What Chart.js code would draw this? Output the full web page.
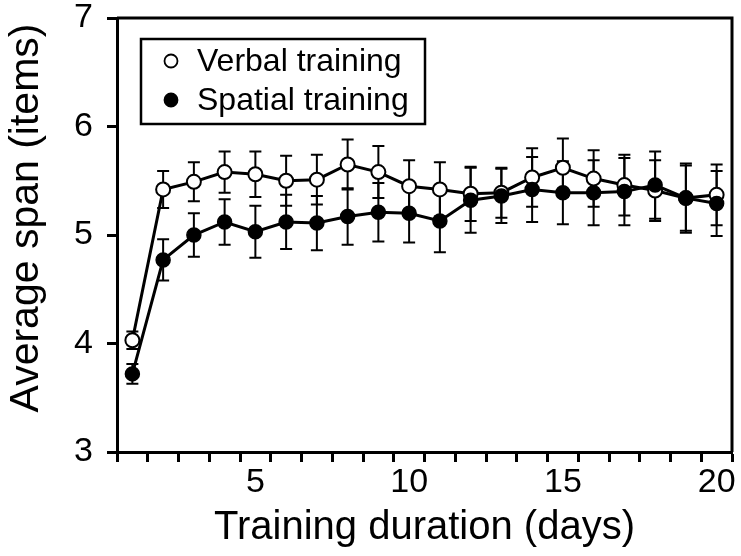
<!DOCTYPE html>
<html>
<head>
<meta charset="utf-8">
<script src="https://cdn.jsdelivr.net/npm/chart.js@4/dist/chart.umd.min.js"></script>
<style>
  html, body { margin: 0; padding: 0; background: #fff; }
  canvas { display: block; }
</style>
</head>
<body>
<canvas id="c" width="741" height="556"></canvas>
<script>
// ---- data ----
const days = [1,2,3,4,5,6,7,8,9,10,11,12,13,14,15,16,17,18,19,20];
const verbalMean = [4.03,5.42,5.49,5.58,5.56,5.50,5.51,5.65,5.58,5.45,5.42,5.38,5.39,5.53,5.62,5.52,5.46,5.41,5.34,5.37];
const verbalErr  = [0.08,0.17,0.18,0.19,0.21,0.23,0.23,0.23,0.24,0.24,0.25,0.25,0.23,0.27,0.27,0.26,0.28,0.28,0.30,0.28];
const spatialMean = [3.72,4.77,5.00,5.12,5.03,5.12,5.11,5.17,5.21,5.20,5.13,5.32,5.36,5.42,5.39,5.39,5.40,5.46,5.34,5.29];
const spatialErr  = [0.09,0.19,0.20,0.21,0.24,0.25,0.25,0.26,0.27,0.27,0.29,0.30,0.25,0.30,0.29,0.30,0.31,0.31,0.32,0.30];
const seriesLabels = ['Verbal training', 'Spatial training'];
const xLabelValues = [5, 10, 15, 20];
const yTickValues = [3, 4, 5, 6, 7];
const xTitle = 'Training duration (days)';
const yTitle = 'Average span (items)';

const FONT = '"Liberation Sans", Arial, sans-serif';

const errorBars = {
  id: 'errorBars',
  beforeDatasetsDraw(chart) {
    const {ctx, scales: {x, y}} = chart;
    ctx.save();
    ctx.strokeStyle = '#000';
    ctx.lineWidth = 2;
    chart.data.datasets.forEach(ds => {
      ds.data.forEach((p, i) => {
        const e = ds.errors[i];
        const px = x.getPixelForValue(p.x);
        const yt = y.getPixelForValue(p.y + e);
        const yb = y.getPixelForValue(p.y - e);
        ctx.beginPath();
        ctx.moveTo(px, yt); ctx.lineTo(px, yb);
        ctx.moveTo(px - 6, yt); ctx.lineTo(px + 6, yt);
        ctx.moveTo(px - 6, yb); ctx.lineTo(px + 6, yb);
        ctx.stroke();
      });
    });
    ctx.restore();
  }
};

const frameAndLegend = {
  id: 'frameAndLegend',
  afterDraw(chart) {
    const {ctx, chartArea: a} = chart;
    ctx.save();
    ctx.strokeStyle = '#000';
    ctx.lineWidth = 3;
    ctx.beginPath();
    ctx.moveTo(a.left, a.top); ctx.lineTo(a.right, a.top); ctx.lineTo(a.right, a.bottom);
    ctx.stroke();
    // y axis title (placed as in the reference, slightly above centre)
    ctx.save();
    ctx.translate(27, 218);
    ctx.rotate(-Math.PI / 2);
    ctx.font = '41px ' + FONT;
    ctx.fillStyle = '#000';
    ctx.textAlign = 'center';
    ctx.textBaseline = 'middle';
    ctx.fillText(yTitle, 0, 0);
    ctx.restore();
    // legend box
    const bx = 141, by = 39, bw = 284, bh = 85;
    ctx.lineWidth = 2.5;
    ctx.strokeRect(bx, by, bw, bh);
    ctx.font = '32px ' + FONT;
    ctx.fillStyle = '#000';
    ctx.textBaseline = 'alphabetic';
    ctx.textAlign = 'left';
    const rows = [{y: 61, fill: '#fff', label: chart.data.datasets[1].label},
                  {y: 100, fill: '#000', label: chart.data.datasets[0].label}];
    rows.forEach(r => {
      ctx.beginPath();
      ctx.arc(171, r.y, 6.5, 0, Math.PI * 2);
      ctx.fillStyle = r.fill;
      ctx.fill();
      ctx.lineWidth = 1.8;
      ctx.stroke();
      ctx.fillStyle = '#000';
      ctx.fillText(r.label, 197, r.y + 10);
    });
    ctx.restore();
  }
};

new Chart(document.getElementById('c'), {
  type: 'line',
  data: {
    datasets: [
      {
        label: seriesLabels[1],
        data: days.map((d, i) => ({x: d, y: spatialMean[i]})),
        errors: spatialErr,
        borderColor: '#000', borderWidth: 3,
        pointBackgroundColor: '#000', pointBorderColor: '#000',
        pointRadius: 7, pointBorderWidth: 1.5, tension: 0, order: 0
      },
      {
        label: seriesLabels[0],
        data: days.map((d, i) => ({x: d, y: verbalMean[i]})),
        errors: verbalErr,
        borderColor: '#000', borderWidth: 3,
        pointBackgroundColor: '#fff', pointBorderColor: '#000',
        pointRadius: 7, pointBorderWidth: 2, tension: 0, order: 1
      }
    ]
  },
  options: {
    responsive: false,
    animation: false,
    devicePixelRatio: 1,
    layout: { padding: { top: 18, right: 4, left: 0, bottom: 0 } },
    plugins: { legend: { display: false }, tooltip: { enabled: false } },
    scales: {
      x: {
        type: 'linear', min: 0.5, max: 20.5,
        afterFit: s => { s.height = 104; s.paddingLeft = 0; s.paddingRight = 0; },
        ticks: {
          stepSize: 0.5, autoSkip: false, maxRotation: 0, minRotation: 0,
          color: '#000', padding: 4,
          font: { family: FONT, size: 34, lineHeight: 1 },
          callback: v => (xLabelValues.includes(v) ? String(v) : '')
        },
        grid: {
          drawOnChartArea: false, drawTicks: true, tickLength: 10, tickWidth: 3,
          tickColor: c => (c.tick && Math.abs(c.tick.value % 1) > 0.01 ? '#000' : 'rgba(0,0,0,0)')
        },
        border: { display: true, color: '#000', width: 3 },
        title: {
          display: true, text: xTitle, color: '#000',
          font: { family: FONT, size: 40 }, padding: { top: 0, bottom: 4 }
        }
      },
      y: {
        min: 3, max: 7,
        afterFit: s => { s.width = 117; s.paddingTop = 0; s.paddingBottom = 0; },
        afterBuildTicks: s => { s.ticks = yTickValues.map(v => ({value: v})); },
        ticks: {
          color: '#000', padding: 14,
          font: { family: FONT, size: 34, lineHeight: 1 }
        },
        grid: { drawOnChartArea: false, drawTicks: true, tickLength: 10, tickWidth: 3, tickColor: '#000' },
        border: { display: true, color: '#000', width: 3 },
        title: { display: false, text: yTitle }
      }
    }
  },
  plugins: [errorBars, frameAndLegend]
});
</script>
</body>
</html>
